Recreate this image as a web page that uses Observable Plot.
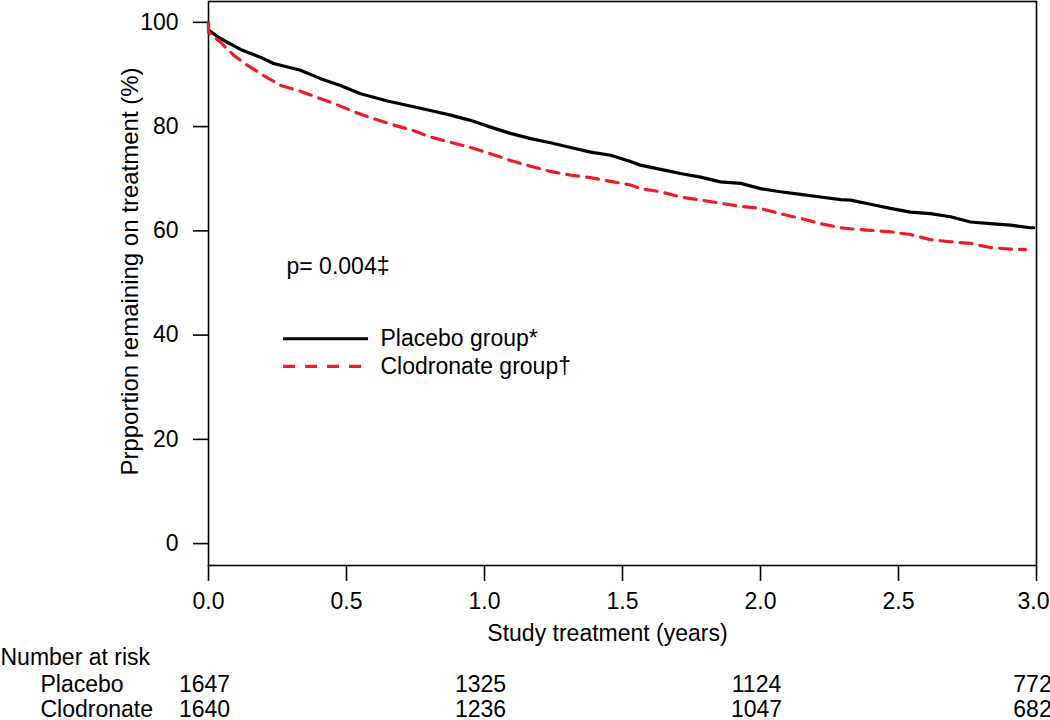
<!DOCTYPE html>
<html>
<head>
<meta charset="utf-8">
<script src="https://cdn.jsdelivr.net/npm/d3@7"></script>
<script src="https://cdn.jsdelivr.net/npm/@observablehq/plot@0.6"></script>
<style>
  html, body { margin: 0; padding: 0; background: white; }
  #chart { width: 1050px; height: 720px; }
</style>
</head>
<body>
<div id="chart"></div>
<script>
// ---- Data ----
const placeboTime = [0, 0, 0.043, 0.116, 0.188, 0.236, 0.333, 0.406, 0.478, 0.551, 0.648, 0.743, 0.804, 0.877, 0.949, 1.022, 1.094, 1.167, 1.239, 1.312, 1.384, 1.457, 1.529, 1.565, 1.638, 1.710, 1.783, 1.855, 1.928, 2.0, 2.072, 2.145, 2.217, 2.290, 2.326, 2.399, 2.471, 2.543, 2.616, 2.688, 2.761, 2.833, 2.906, 2.978, 2.99];
const placeboPct  = [100, 98.5, 96.9, 94.8, 93.3, 92.1, 90.8, 89.2, 87.9, 86.3, 84.9, 83.8, 83.1, 82.2, 81.2, 79.9, 78.7, 77.7, 76.9, 76.0, 75.1, 74.5, 73.3, 72.6, 71.8, 71.0, 70.3, 69.4, 69.1, 68.1, 67.5, 67.0, 66.5, 66.0, 65.9, 65.1, 64.3, 63.6, 63.3, 62.7, 61.7, 61.4, 61.1, 60.6, 60.6];

const clodTime = [0, 0, 0.043, 0.091, 0.14, 0.2, 0.261, 0.333, 0.394, 0.466, 0.539, 0.599, 0.671, 0.744, 0.804, 0.877, 0.949, 1.022, 1.094, 1.167, 1.239, 1.312, 1.384, 1.457, 1.529, 1.565, 1.638, 1.71, 1.783, 1.855, 1.928, 2.0, 2.072, 2.145, 2.217, 2.29, 2.326, 2.399, 2.471, 2.543, 2.616, 2.688, 2.761, 2.833, 2.906, 2.96];
const clodPct  = [100, 98.1, 96.2, 93.7, 91.8, 89.8, 87.9, 86.8, 85.6, 84.2, 82.6, 81.5, 80.3, 79.2, 78.0, 77.0, 76.0, 74.8, 73.5, 72.4, 71.4, 70.7, 70.2, 69.5, 68.8, 68.1, 67.5, 66.5, 65.9, 65.3, 64.7, 64.3, 63.3, 62.4, 61.4, 60.6, 60.4, 60.1, 59.8, 59.3, 58.3, 57.9, 57.6, 56.8, 56.5, 56.4];

const xTicks = [0, 0.5, 1.0, 1.5, 2.0, 2.5, 3.0];
const yTicks = [0, 20, 40, 60, 80, 100];

const riskTimes = [0, 1, 2, 3];
const riskPlacebo = [1647, 1325, 1124, 772];
const riskClodronate = [1640, 1236, 1047, 682];

const seriesNames = ["Placebo group*", "Clodronate group\u2020"];
const pValueText = "p= 0.004\u2021";
const xLabel = "Study treatment (years)";
const yLabel = "Prpportion remaining on treatment (%)";
const riskTitle = "Number at risk";
const riskRowNames = ["Placebo", "Clodronate"];

// ---- Build tables ----
const placebo = placeboTime.map((t, i) => ({t, v: placeboPct[i]}));
const clod = clodTime.map((t, i) => ({t, v: clodPct[i]}));
const riskP = riskTimes.map((t, i) => ({t, n: String(riskPlacebo[i])}));
const riskC = riskTimes.map((t, i) => ({t, n: String(riskClodronate[i])}));

// legend placement in data units (like R's legend(x, y))
const legendX1 = 0.272, legendX2 = 0.58, legendTextX = 0.623;
const legendY = [39.3, 34.0];

const RED = "#ee1c25";
const FONT = "'Liberation Sans', Arial, Helvetica, sans-serif";
const FS = 23;
const DASH = "12,8";
const fmt1 = d => d.toFixed(1);
const lastTick = xTicks[xTicks.length - 1];

const chart = Plot.plot({
  width: 1050,
  height: 720,
  marginLeft: 208,
  marginRight: 14,
  marginTop: 1,
  marginBottom: 155,
  x: {domain: [0, 3]},
  y: {domain: [-4.2, 104]},
  style: {fontFamily: FONT, fontSize: FS + "px", background: "white", color: "black", overflow: "visible"},
  marks: [
    Plot.frame({stroke: "black", strokeWidth: 1.6}),
    // tick marks + labels (the last label is nudged left so it stays inside the page)
    Plot.axisX({ticks: xTicks, tickFormat: d => d === lastTick ? "" : fmt1(d), tickSize: 16, tickPadding: 11, fontSize: FS, label: null, strokeWidth: 1.6}),
    Plot.axisX({ticks: [lastTick], tickFormat: fmt1, tickSize: 0, tickPadding: 27, dx: -3, fontSize: FS, label: null}),
    Plot.axisY({ticks: yTicks, tickSize: 15, tickPadding: 15, fontSize: FS, label: null, strokeWidth: 1.6}),
    Plot.line(placebo, {x: "t", y: "v", stroke: "black", strokeWidth: 3.2}),
    Plot.line(clod, {x: "t", y: "v", stroke: RED, strokeWidth: 3.2, strokeDasharray: DASH}),
    // legend
    Plot.ruleY([legendY[0]], {x1: legendX1, x2: legendX2, stroke: "black", strokeWidth: 3.2}),
    Plot.ruleY([legendY[1]], {x1: legendX1, x2: legendX2, stroke: RED, strokeWidth: 3.2, strokeDasharray: "12,10"}),
    Plot.text(seriesNames, {y: (d, i) => legendY[i], x: legendTextX, text: d => d, textAnchor: "start", lineAnchor: "middle", fontSize: FS, fill: "black"}),
    // p-value
    Plot.text([pValueText], {frameAnchor: "top-left", dx: 78, dy: 265, textAnchor: "start", lineAnchor: "middle", fontSize: FS}),
    // axis titles
    Plot.text([xLabel], {frameAnchor: "bottom", dx: -15, dy: 68, lineAnchor: "middle", textAnchor: "middle", fontSize: FS}),
    Plot.text([yLabel], {frameAnchor: "left", dx: -78, dy: -12, rotate: -90, textAnchor: "middle", lineAnchor: "middle", fontSize: 24}),
    // number at risk
    Plot.text([riskTitle], {frameAnchor: "bottom-left", dx: -208, dy: 92, textAnchor: "start", lineAnchor: "middle", fontSize: FS}),
    Plot.text([riskRowNames[0]], {frameAnchor: "bottom-left", dx: -168, dy: 119, textAnchor: "start", lineAnchor: "middle", fontSize: FS}),
    Plot.text([riskRowNames[1]], {frameAnchor: "bottom-left", dx: -168, dy: 144, textAnchor: "start", lineAnchor: "middle", fontSize: FS}),
    Plot.text(riskP, {x: "t", text: "n", frameAnchor: "bottom", dy: 119, dx: -4, lineAnchor: "middle", fontSize: FS}),
    Plot.text(riskC, {x: "t", text: "n", frameAnchor: "bottom", dy: 144, dx: -4, lineAnchor: "middle", fontSize: FS})
  ]
});
document.getElementById("chart").appendChild(chart);
</script>
</body>
</html>
